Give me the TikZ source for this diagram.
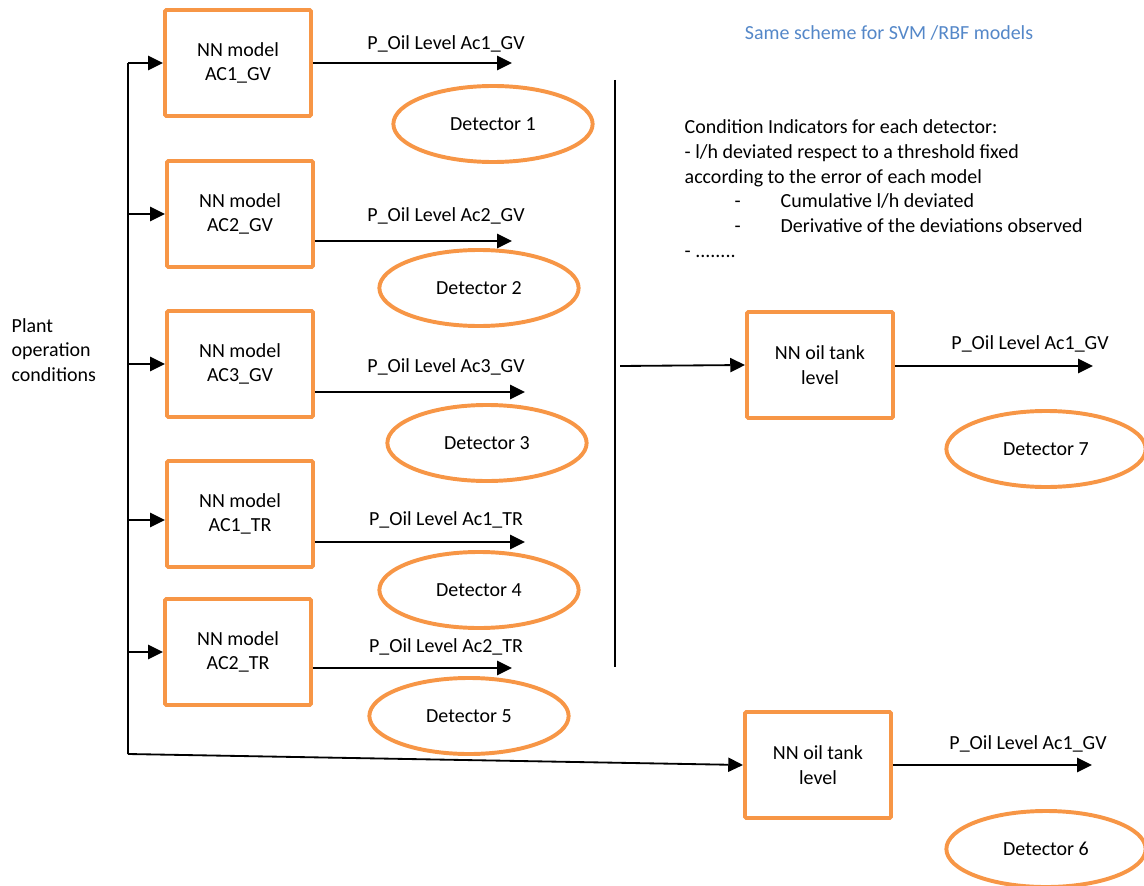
\documentclass[tikz,border=0pt]{standalone}
\usepackage{fontspec}
\setmainfont{Carlito}
\usepackage{xcolor}
\definecolor{OrangeBox}{RGB}{247,150,70}
\definecolor{BlueNote}{RGB}{84,135,200}
\usepackage{tikz}
\usetikzlibrary{arrows.meta, shapes.geometric, positioning, calc}

\begin{document}
\begin{tikzpicture}[
  x=0.025cm, y=-0.025cm,
  font=\fontsize{14.2pt}{17.4pt}\selectfont,
  modelbox/.style={draw=OrangeBox, line width=2.8pt, rounded corners=1pt,
    minimum width=3.65cm, minimum height=2.65cm, inner sep=2pt, align=center},
  detector/.style={draw=OrangeBox, ellipse, line width=2.8pt,
    minimum width=4.98cm, minimum height=1.9cm, inner sep=0pt},
  flow/.style={line width=1.3pt, -{Triangle[length=10.5pt, width=10pt]}},
  lbl/.style={inner sep=1pt}
]
\useasboundingbox (0,0) rectangle (1144,886);

% models on the left
\node[modelbox] (m1) at (238,63)  {NN model\\AC1\_GV};
\node[modelbox] (m2) at (240,214) {NN model\\AC2\_GV};
\node[modelbox] (m3) at (240,364) {NN model\\AC3\_GV};
\node[modelbox] (m4) at (240,514) {NN model\\AC1\_TR};
\node[modelbox] (m5) at (238,652) {NN model\\AC2\_TR};

% tank level models on the right
\node[modelbox] (t7) at (820,365) {NN oil tank\\level};
\node[modelbox] (t6) at (818,765) {NN oil tank\\level};

% detectors
\node[detector] (d1) at (493,124) {Detector 1};
\node[detector] (d2) at (479,288) {Detector 2};
\node[detector] (d3) at (487,443) {Detector 3};
\node[detector] (d4) at (479,590) {Detector 4};
\node[detector] (d5) at (469,716) {Detector 5};
\node[detector] (d7) at (1046,449) {Detector 7};
\node[detector] (d6) at (1046,849) {Detector 6};

% free ends of the outputs
\coordinate (o1) at (512,63);
\coordinate (o2) at (512,241);
\coordinate (o3) at (525,392);
\coordinate (o4) at (525,542);
\coordinate (o5) at (512,668);
\coordinate (o7) at (1093,366);
\coordinate (o6) at (1092,765);

\draw[flow] (m1.east |- o1) -- (o1);
\draw[flow] (m2.east |- o2) -- (o2);
\draw[flow] (m3.east |- o3) -- (o3);
\draw[flow] (m4.east |- o4) -- (o4);
\draw[flow] (m5.east |- o5) -- (o5);
\draw[flow] (t7.east |- o7) -- (o7);
\draw[flow] (t6.east |- o6) -- (o6);

\node[lbl] (l1) at (446,44)   {P\_Oil Level Ac1\_GV};
\node[lbl] (l2) at (446,216)  {P\_Oil Level Ac2\_GV};
\node[lbl] (l3) at (446,367)  {P\_Oil Level Ac3\_GV};
\node[lbl] (l4) at (446,520)  {P\_Oil Level Ac1\_TR};
\node[lbl] (l5) at (446,647)  {P\_Oil Level Ac2\_TR};
\node[lbl] (l7) at (1030,344) {P\_Oil Level Ac1\_GV};
\node[lbl] (l6) at (1028,744) {P\_Oil Level Ac1\_GV};

% plant conditions bus
\node[lbl, anchor=west, align=left] (plant) at (10,350)
  {Plant\\operation\\conditions};
\coordinate (bustop) at (128,63);
\coordinate (busbot) at (128,754);
\draw[line width=1.3pt] (bustop) -- (busbot);
\draw[flow] (bustop) -- (m1.west);
\draw[flow] (m2.west -| bustop) -- (m2.west);
\draw[flow] (m3.west -| bustop) -- (m3.west);
\draw[flow] ($(m4.west -| bustop)+(0,6)$) -- ($(m4.west)+(0,6)$);
\draw[flow] (m5.west -| bustop) -- (m5.west);
\draw[flow] (busbot) -- (t6.west);

% detectors feed the second stage
\coordinate (bartop) at (615,80);
\coordinate (barbot) at (615,667);
\draw[line width=1.4pt] (bartop) -- (barbot);
\coordinate (barout) at (620,366);
\draw[flow] (barout) -- (t7.west);

% notes
\node[lbl, text=BlueNote] (note) at (889,33) {Same scheme for SVM /RBF models};
\node[lbl, anchor=north west, align=left, font=\fontsize{14.2pt}{17.6pt}\selectfont] (ci) at (683,118)
  {Condition Indicators for each detector:\\
   - l/h deviated respect to a threshold fixed\\
   according to the error of each model\\
   \makebox[2.4cm][l]{\hspace*{1.25cm}-}Cumulative l/h deviated\\
   \makebox[2.4cm][l]{\hspace*{1.25cm}-}Derivative of the deviations observed\\
   - ........};
\end{tikzpicture}
\end{document}
